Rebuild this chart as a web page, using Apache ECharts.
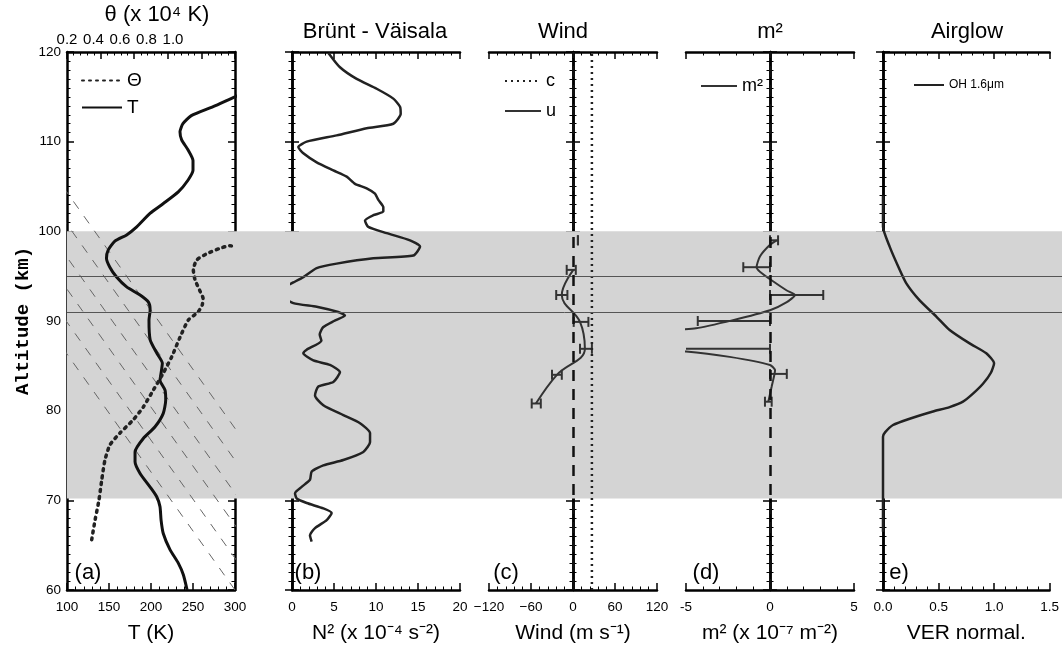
<!DOCTYPE html>
<html lang="en">
<head>
<meta charset="UTF-8">
<title>Altitude profiles</title>
<script src="https://cdn.jsdelivr.net/npm/echarts@6/dist/echarts.min.js"></script>
<style>
  html, body { margin: 0; padding: 0; background: #fff; }
  #main { width: 1062px; height: 652px; }
</style>
</head>
<body>
<div id="main"></div>
<script>
// ---- (a) temperature and potential temperature ----
var tAlt = [116, 115, 113.9, 112.9, 112.0, 111.1, 110.2, 109.1, 107.9, 106.8, 105.7, 104.4, 103.1, 102.0, 100.5, 99.6, 98.9, 97.9, 97.0, 96.0, 94.9, 93.8, 92.9, 92.1, 91.2, 90.1, 87.9, 86.4, 85.3, 84.2, 83.4, 82.3, 81.2, 79.7, 78.2, 76.9, 75.4, 74.3, 73.0, 71.5, 70.4, 69.3, 67.8, 66.3, 64.5, 63.0, 61.7, 60.0];
var tVal = [325, 300, 274, 248, 238, 234.5, 236.5, 244, 250, 250, 244, 232.5, 214.7, 198.8, 183, 171, 157, 149, 147, 151, 159, 171, 187, 197, 199, 197.6, 199, 207, 213.5, 212, 210.7, 216.7, 217.5, 214.6, 204.8, 190.8, 181, 181, 187, 198.8, 206.8, 210.7, 212, 214.6, 222.6, 232.5, 238.5, 243];
var thetaAlt = [65.6, 67.8, 70.0, 72.3, 74.5, 76.2, 77.5, 79.0, 80.4, 82.3, 84.2, 86.0, 88.2, 90.1, 91.0, 91.8, 92.5, 93.4, 94.6, 95.7, 96.8, 97.5, 98.1, 98.4, 98.3];
var thetaVal = [0.347, 0.367, 0.390, 0.407, 0.426, 0.456, 0.515, 0.595, 0.654, 0.714, 0.773, 0.823, 0.873, 0.922, 0.98, 1.005, 1.01, 0.99, 0.962, 0.952, 0.972, 1.032, 1.11, 1.17, 1.2];
// dashed isentropes: temperature where each crosses 60 km and 120 km
var isoT60 = [300, 327, 355, 382, 410, 437];
var isoT120 = [-156, -129, -101, -74, -46, -19];

// ---- (b) Brunt-Vaisala frequency ----
var n2Alt = [119.9, 118.3, 117.0, 115.9, 114.8, 113.9, 113.1, 112.0, 111.5, 110.7, 110.0, 109.4, 108.7, 107.7, 106.8, 106.1, 105.3, 104.8, 104.2, 103.5, 102.7, 102.2, 101.8, 101.2, 100.5, 99.8, 99.0, 98.3, 97.3, 97.0, 96.4, 95.9, 94.9, 94.3, 93.2, 92.0, 91.6, 91.0, 90.6, 90.0, 89.3, 88.5, 87.8, 86.8, 86.4, 85.6, 85.1, 84.3, 83.2, 82.7, 81.7, 80.6, 79.5, 78.6, 77.5, 76.5, 75.4, 74.5, 73.9, 73.2, 72.3, 71.5, 70.8, 70.2, 69.7, 69.1, 68.6, 67.8, 66.9, 66.1, 65.4];
var n2Val = [4.33, 5.71, 7.70, 10.08, 12.06, 12.86, 12.94, 12.06, 8.89, 5.32, 1.75, 0.75, 1.35, 2.94, 4.92, 6.51, 7.5, 8.89, 9.88, 10.28, 10.87, 10.87, 9.68, 8.69, 9.08, 11.27, 14.05, 15.24, 14.44, 9.68, 5.32, 2.94, 1.35, 0.16, -2.0, 0.16, 2.94, 5.5, 6.3, 5.0, 3.7, 3.3, 3.5, 1.75, 1.35, 2.54, 4.52, 5.71, 4.92, 3.13, 2.74, 3.73, 6.11, 8.1, 9.29, 9.29, 8.49, 6.11, 3.73, 2.34, 2.14, 1.15, 0.36, 0.56, 1.75, 3.73, 4.72, 4.13, 2.74, 2.14, 2.34];

// ---- (c) wind ----
var windAlt = [95.7, 92.9, 89.9, 86.9, 84.0, 80.8];
var windVal = [0.5, -16, 10, 17, -23, -53];
var windErrAlt = [99.0, 95.7, 92.9, 89.9, 86.9, 84.0, 80.8];
var windErrLow = [7, -9, -24, 1, 10, -30, -59];
var windErrHigh = [7, 4, -8, 22, 27, -16, -46];
var phaseSpeed = 27;

// ---- (d) m^2 ----
var m2Alt = [99.0, 98.5, 97.2, 96.0, 95.5, 94.4, 93.4, 92.9, 92.1, 91.2, 90.1, 89.2, 88.4, 87.0, 86.6, 86.0, 85.1, 84.5, 82.7, 81.0];
var m2Val = [0.4, 0.0, -0.6, -0.8, -0.6, 0.2, 1.0, 1.49, 1.0, 0.0, -2.2, -4.4, -9, -9, -5, -2.4, 0.0, 0.3, 0.1, -0.1];
var m2ErrAlt = [99.0, 96.0, 92.9, 90.0, 86.9, 84.1, 81.0];
var m2ErrLow = [0, -1.59, 0, -4.3, -5.5, 0, -0.3];
var m2ErrHigh = [0.48, 0, 3.17, 0, 0, 1.0, 0.1];

// ---- (e) airglow ----
var agAlt = [104, 100.5, 98.3, 96.0, 94.2, 92.3, 90.5, 89.0, 87.5, 86.4, 85.3, 84.2, 83.0, 81.9, 81.0, 80.4, 79.9, 79.1, 78.4, 77.6, 77.1, 66.5];
var agVal = [0, 0, 0.06, 0.14, 0.21, 0.33, 0.48, 0.60, 0.78, 0.93, 1.0, 0.97, 0.90, 0.81, 0.72, 0.60, 0.45, 0.24, 0.09, 0.02, 0, 0];

// shaded layer and the two reference altitudes
var layerBand = [70.2, 100];
var refAlts = [91, 95];

var FONT = "'Liberation Sans', Arial, sans-serif";
var NOSYM = {color: 'rgba(0,0,0,0)', opacity: 0};

function zip(xs, ys) {
    return xs.map(function (x, i) { return [x, ys[i]]; });
}

var panels = [
    {left: 67, min: 100, max: 300, interval: 50, name: 'T (K)', fmt: function (v) { return String(v); }},
    {left: 292, min: 0, max: 20, interval: 5, name: 'N\u00b2 (x 10\u207b\u2074 s\u207b\u00b2)', fmt: function (v) { return String(v); }},
    {left: 489, min: -120, max: 120, interval: 60, name: 'Wind (m s\u207b\u00b9)', fmt: function (v) { return String(v).replace('-', '\u2212'); }},
    {left: 686, min: -5, max: 5, interval: 5, name: 'm\u00b2 (x 10\u207b\u2077 m\u207b\u00b2)', fmt: function (v) { return String(v); }},
    {left: 883, min: 0, max: 1.5, interval: 0.5, name: 'VER normal.', fmt: function (v) { return v.toFixed(1); }}
];
var PW = 168, TOP = 52, BOTTOM = 62;

var grids = [], xAxes = [], yAxes = [];
var tickStyle = {show: true, inside: true, length: 7, lineStyle: {color: '#000', width: 1.5}};
var minorStyle = function (n) {
    return {show: true, splitNumber: n, length: 3.5, lineStyle: {color: '#000', width: 1}};
};
var lineStyleAxis = {show: true, lineStyle: {color: '#000', width: 2.5}};

panels.forEach(function (p, i) {
    grids.push({left: p.left, top: TOP, width: PW, bottom: BOTTOM});
    xAxes.push({
        gridIndex: i, type: 'value', position: 'bottom', min: p.min, max: p.max, interval: p.interval,
        axisLine: lineStyleAxis, axisTick: tickStyle, minorTick: minorStyle(5), splitLine: {show: false},
        axisLabel: {color: '#000', fontSize: 13.5, fontFamily: FONT, margin: 10, formatter: p.fmt},
        name: p.name, nameLocation: 'middle', nameGap: 33,
        nameTextStyle: {color: '#000', fontSize: 21, fontFamily: FONT}
    });
    // top edge: theta scale for (a), mirror of the bottom scale elsewhere
    xAxes.push({
        gridIndex: i, type: 'value', position: 'top',
        min: i === 0 ? 0.2 : p.min, max: i === 0 ? 1.2 : p.max, interval: i === 0 ? 0.2 : p.interval,
        axisLine: lineStyleAxis, axisTick: tickStyle, minorTick: minorStyle(5), splitLine: {show: false},
        axisLabel: {show: false}
    });
    yAxes.push({
        gridIndex: i, type: 'value', position: 'left', min: 60, max: 120, interval: 10,
        axisLine: lineStyleAxis, axisTick: tickStyle, minorTick: minorStyle(10), splitLine: {show: false},
        axisLabel: {show: i === 0, color: '#000', fontSize: 13.5, fontFamily: FONT, margin: 6},
        name: i === 0 ? 'Altitude (km)' : '', nameLocation: 'middle', nameGap: 34,
        nameTextStyle: {color: '#000', fontSize: 19, fontWeight: 'bold', fontFamily: "'Liberation Mono', 'DejaVu Sans Mono', monospace"}
    });
    yAxes.push({
        gridIndex: i, type: 'value', position: 'right', min: 60, max: 120, interval: 10,
        axisLine: lineStyleAxis, axisTick: tickStyle, minorTick: minorStyle(10), splitLine: {show: false},
        axisLabel: {show: false}
    });
});

// label row of the theta axis (printed with its own spacing in the original)
xAxes.push({
    gridIndex: 0, type: 'value', position: 'top', min: 0.2, max: 1.468, interval: 0.2,
    axisLine: {show: false}, axisTick: {show: false}, splitLine: {show: false},
    axisLabel: {color: '#000', fontSize: 15, fontFamily: FONT, margin: 5,
        formatter: function (v) { return v > 1.05 ? '' : v.toFixed(1); }}
});
// full-width background grid for the shaded layer
grids.push({left: 67, right: 0, top: TOP, bottom: BOTTOM});
xAxes.push({gridIndex: 5, type: 'value', min: 0, max: 1, show: false});
yAxes.push({gridIndex: 5, type: 'value', min: 60, max: 120, show: false});

function errorBar(color) {
    return function (params, api) {
        var y = api.value(0);
        var lo = api.coord([api.value(1), y]);
        var hi = api.coord([api.value(2), y]);
        var h = 5;
        var st = {stroke: color, lineWidth: 2};
        return {
            type: 'group', children: [
                {type: 'line', shape: {x1: lo[0], y1: lo[1], x2: hi[0], y2: hi[1]}, style: st},
                {type: 'line', shape: {x1: lo[0], y1: lo[1] - h, x2: lo[0], y2: lo[1] + h}, style: st},
                {type: 'line', shape: {x1: hi[0], y1: hi[1] - h, x2: hi[0], y2: hi[1] + h}, style: st}
            ]
        };
    };
}

var series = [];
// background band + reference lines
series.push({
    type: 'line', xAxisIndex: 11, yAxisIndex: 10, data: [[0, 60], [1, 60]], z: -1, silent: true,
    symbol: 'none', lineStyle: {opacity: 0},
    markArea: {silent: true, itemStyle: {color: '#d4d4d4'},
        data: [[{yAxis: layerBand[0]}, {yAxis: layerBand[1]}]]},
    markLine: {silent: true, symbol: 'none', label: {show: false},
        lineStyle: {color: '#555', width: 1, type: 'solid'},
        data: refAlts.map(function (a) { return {yAxis: a}; })}
});
// isentropes
isoT60.forEach(function (t, i) {
    series.push({
        type: 'line', xAxisIndex: 0, yAxisIndex: 0, silent: true, symbol: 'none',
        data: [[t, 60], [isoT120[i], 120]],
        lineStyle: {color: '#666', width: 1, type: [9, 9]}
    });
});
series.push({
    name: 'T', type: 'line', xAxisIndex: 0, yAxisIndex: 0, symbol: 'none', smooth: 0.2,
    data: zip(tVal, tAlt), lineStyle: {color: '#111', width: 3}, itemStyle: NOSYM
});
series.push({
    name: '\u0398', type: 'line', xAxisIndex: 1, yAxisIndex: 0, symbol: 'none', smooth: 0.2,
    data: zip(thetaVal, thetaAlt), lineStyle: {color: '#222', width: 3.5, type: [2, 5], cap: 'round'},
    itemStyle: NOSYM
});
series.push({
    type: 'line', xAxisIndex: 2, yAxisIndex: 2, symbol: 'none', smooth: 0.2,
    data: zip(n2Val, n2Alt), lineStyle: {color: '#222', width: 2.5}
});
series.push({
    name: 'c', type: 'line', xAxisIndex: 4, yAxisIndex: 4, symbol: 'none',
    data: [[phaseSpeed, 60], [phaseSpeed, 120]],
    lineStyle: {color: '#222', width: 2.5, type: [2, 4]}, itemStyle: NOSYM
});
series.push({
    name: 'u', type: 'line', xAxisIndex: 4, yAxisIndex: 4, symbol: 'none', smooth: 0.4,
    data: zip(windVal, windAlt), lineStyle: {color: '#333', width: 2}, itemStyle: NOSYM,
    markLine: {silent: true, symbol: 'none', label: {show: false},
        lineStyle: {color: '#111', width: 2.5, type: [11, 8]}, data: [{xAxis: 0}]}
});
series.push({
    type: 'custom', xAxisIndex: 4, yAxisIndex: 4, clip: true, silent: true,
    renderItem: errorBar('#333'), encode: {x: [1, 2], y: 0},
    data: windErrAlt.map(function (a, i) { return [a, windErrLow[i], windErrHigh[i]]; })
});
series.push({
    name: 'm\u00b2', type: 'line', xAxisIndex: 6, yAxisIndex: 6, symbol: 'none', smooth: 0.2,
    data: zip(m2Val, m2Alt), lineStyle: {color: '#333', width: 2}, itemStyle: NOSYM,
    markLine: {silent: true, symbol: 'none', label: {show: false},
        lineStyle: {color: '#111', width: 2.5, type: [11, 8]}, data: [{xAxis: 0}]}
});
series.push({
    type: 'custom', xAxisIndex: 6, yAxisIndex: 6, clip: true, silent: true,
    renderItem: errorBar('#333'), encode: {x: [1, 2], y: 0},
    data: m2ErrAlt.map(function (a, i) { return [a, m2ErrLow[i], m2ErrHigh[i]]; })
});
series.push({
    name: 'OH 1.6\u03bcm', type: 'line', xAxisIndex: 8, yAxisIndex: 8, symbol: 'none', smooth: 0.2,
    data: zip(agVal, agAlt), lineStyle: {color: '#222', width: 2.5}, itemStyle: NOSYM
});

function legend(names, left, top, w, gap, fs) {
    return {
        orient: 'vertical', selectedMode: false, itemHeight: 12,
        itemStyle: {opacity: 0},
        data: names, left: left, top: top, itemWidth: w, itemGap: gap,
        textStyle: {color: '#000', fontFamily: FONT, fontSize: fs}
    };
}

function label(text, x, y, fs) {
    return {
        type: 'text', x: x, y: y, silent: true,
        style: {text: text, fill: '#000', fontSize: fs, fontFamily: FONT, align: 'center', verticalAlign: 'middle'}
    };
}

var titles = [
    ['\u03b8 (x 10\u2074 K)', 157, 15], ['Br\u00fcnt - V\u00e4isala', 375, 32],
    ['Wind', 563, 32], ['m\u00b2', 770, 32], ['Airglow', 967, 32]
];
var panelTags = [['(a)', 88, 573], ['(b)', 308, 573], ['(c)', 506, 573], ['(d)', 706, 573], ['e)', 899, 573]];

var chart = echarts.init(document.getElementById('main'), null, {renderer: 'canvas'});
chart.setOption({
    animation: false,
    backgroundColor: '#fff',
    grid: grids,
    xAxis: xAxes,
    yAxis: yAxes,
    legend: [
        legend(['\u0398', 'T'], 76, 66, 40, 8, 19),
        legend(['c', 'u'], 499, 67, 36, 12, 18),
        legend(['m\u00b2'], 695, 72, 36, 10, 18),
        legend(['OH 1.6\u03bcm'], 908, 74, 30, 10, 12)
    ],
    graphic: titles.map(function (t) { return label(t[0], t[1], t[2], 22); })
        .concat(panelTags.map(function (t) { return label(t[0], t[1], t[2], 22); })),
    series: series
});
</script>
</body>
</html>
